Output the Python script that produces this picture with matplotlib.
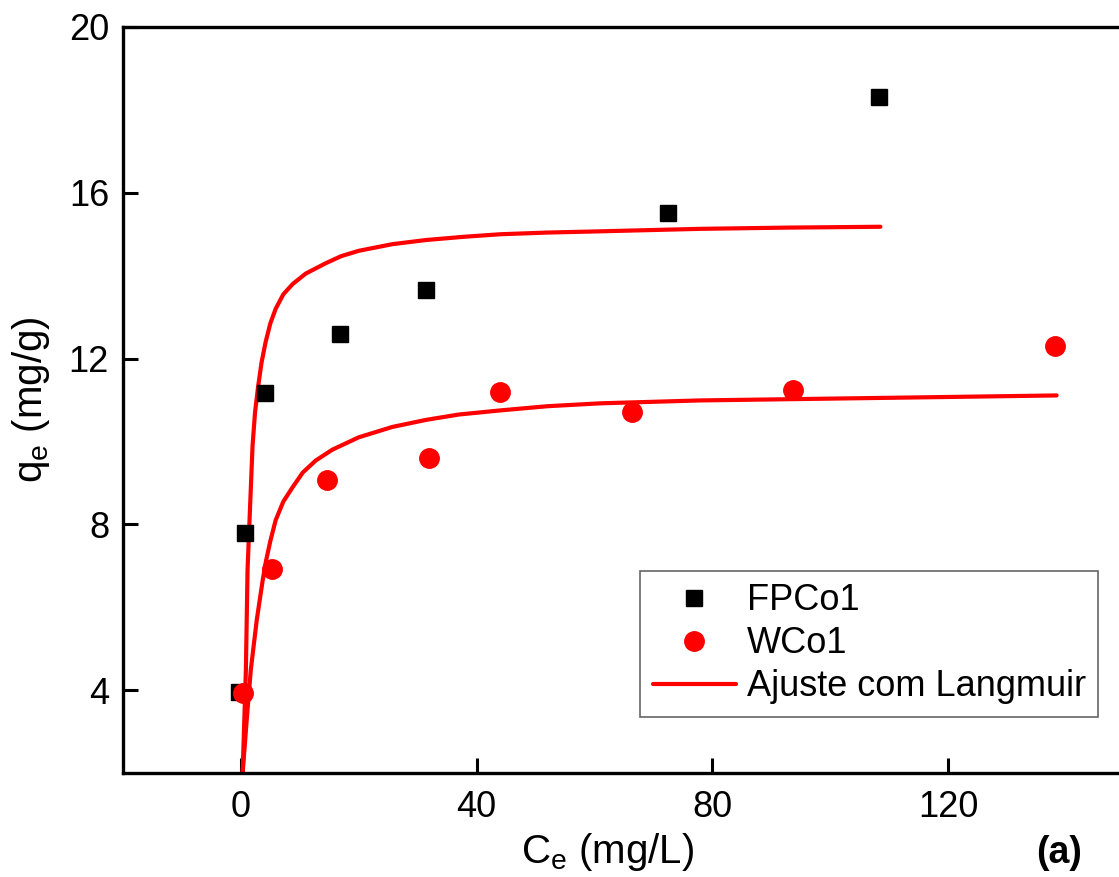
import matplotlib
matplotlib.use("Agg")
import matplotlib.pyplot as plt

plt.rcParams["font.family"] = ["Liberation Sans", "DejaVu Sans"]
plt.rcParams["mathtext.fontset"] = "custom"
plt.rcParams["mathtext.rm"] = "Liberation Sans"

# experimental points
fpco1_ce = [-0.3, 0.7, 4.1, 16.9, 31.4, 72.4, 108.3]
fpco1_qe = [3.95, 7.78, 11.18, 12.6, 13.66, 15.52, 18.31]

wco1_ce = [0.3, 5.3, 14.6, 31.9, 43.9, 66.3, 93.7, 138.1]
wco1_qe = [3.93, 6.92, 9.06, 9.59, 11.2, 10.72, 11.25, 12.31]

# Langmuir fit curves
fit1_ce = [0.3, 0.85, 1.13, 1.41, 1.98, 2.4, 2.9, 3.5, 4.2, 5.0, 5.9, 7.2, 8.8,
           11.0, 14.4, 17.0, 20.0, 25.7, 31.4, 38.0, 44.1, 52.0, 61.0, 78.0,
           93.0, 108.5]
fit1_qe = [2.0, 4.5, 6.9, 7.9, 9.9, 10.7, 11.3, 11.9, 12.4, 12.85, 13.2, 13.55,
           13.8, 14.05, 14.3, 14.47, 14.6, 14.76, 14.86, 14.94, 15.0, 15.04,
           15.07, 15.13, 15.16, 15.18]

fit2_ce = [0.3, 1.0, 1.69, 2.7, 3.7, 4.24, 5.0, 5.9, 7.2, 8.8, 10.5, 12.7, 15.5,
           20.0, 25.7, 31.4, 37.0, 44.1, 52.0, 61.0, 78.0, 108.5, 138.4]
fit2_qe = [2.0, 3.3, 4.5, 5.7, 6.65, 7.1, 7.6, 8.1, 8.55, 8.9, 9.25, 9.54, 9.8,
           10.1, 10.35, 10.52, 10.65, 10.75, 10.85, 10.92, 10.99, 11.05, 11.11]

fig = plt.figure(figsize=(11.19, 8.77), dpi=100)
ax = fig.add_axes([123 / 1119, 104 / 877, 1002 / 1119, 746 / 877])

ax.plot(fit1_ce, fit1_qe, color="red", lw=3, solid_capstyle="round", zorder=2,
        label="Ajuste com Langmuir")
ax.plot(fit2_ce, fit2_qe, color="red", lw=3, solid_capstyle="round", zorder=2)
ax.plot(fpco1_ce, fpco1_qe, "s", color="black", ms=12, ls="none", zorder=3, label="FPCo1")
ax.plot(wco1_ce, wco1_qe, "o", color="red", ms=14, ls="none", zorder=3, label="WCo1")

ax.set_xlim(-20, 150)
ax.set_ylim(2, 20)
ax.set_xticks([0, 40, 80, 120])
ax.set_yticks([4, 8, 12, 16, 20])
ax.tick_params(direction="in", length=11, width=2.2, labelsize=26)
ax.tick_params(axis="x", pad=12)
ax.tick_params(axis="y", pad=10)
for side in ["left", "bottom", "top", "right"]:
    ax.spines[side].set_linewidth(2.4)

ax.set_xlabel(r"C$_{\mathregular{e}}$ (mg/L)", fontsize=29)
ax.xaxis.set_label_coords(485 / 1002, -0.078)
ax.set_ylabel(r"q$_{\mathregular{e}}$ (mg/g)", fontsize=29, labelpad=12)

handles, labels = ax.get_legend_handles_labels()
order = [1, 2, 0]
leg = ax.legend([handles[i] for i in order], [labels[i] for i in order],
                loc="lower left", bbox_to_anchor=(517 / 1002, 56 / 746),
                fontsize=26, frameon=True, fancybox=False, edgecolor="#404040",
                handlelength=2.3, handletextpad=0.3, borderpad=0.35,
                labelspacing=0.22, borderaxespad=0)
leg.get_frame().set_linewidth(1.2)

fig.text(1082 / 1119, 1 - 853 / 877, "(a)", fontsize=27, fontweight="bold",
         ha="right", va="center")

fig.savefig("out.png", dpi=100)
